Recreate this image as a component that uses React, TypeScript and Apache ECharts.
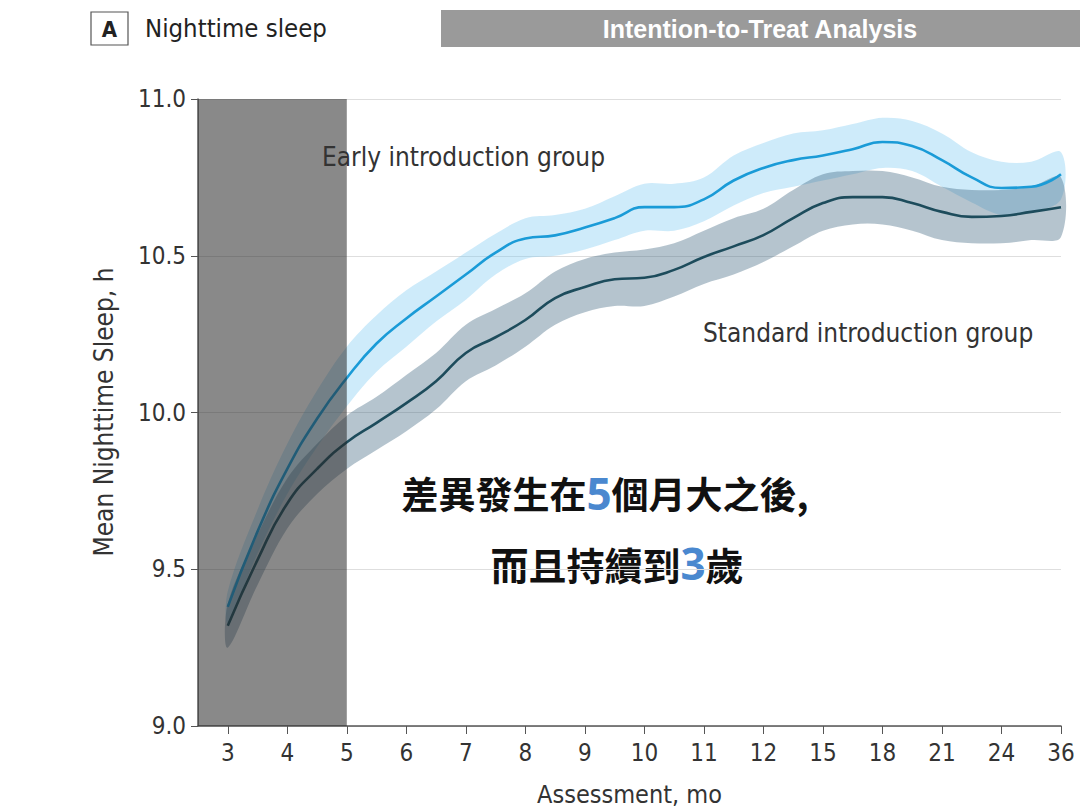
import React, { useEffect, useRef } from "react";
import * as echarts from "echarts";

// Assessment ages (months) shown as evenly spaced categories
const xLabels = ["3", "4", "5", "6", "7", "8", "9", "10", "11", "12", "15", "18", "21", "24", "36"];
// positions (index space, half steps) at which curves were read
const xPos = [0, 0.5, 1, 1.5, 2, 2.5, 3, 3.5, 4, 4.5, 5, 5.5, 6, 6.5, 7, 7.5, 8, 8.5, 9, 9.5, 10, 10.5, 11, 11.5, 12, 12.5, 13, 13.5, 14];

const earlyMean = [9.38, 9.62, 9.82, 9.98, 10.11, 10.22, 10.3, 10.37, 10.44, 10.51, 10.555, 10.565, 10.59, 10.62, 10.655, 10.655, 10.68, 10.74, 10.78, 10.805, 10.82, 10.84, 10.863, 10.85, 10.805, 10.75, 10.716, 10.72, 10.76];
const earlyUpper = [9.43, 9.69, 9.9, 10.07, 10.21, 10.31, 10.39, 10.45, 10.51, 10.57, 10.62, 10.63, 10.65, 10.69, 10.73, 10.73, 10.75, 10.82, 10.86, 10.89, 10.9, 10.92, 10.94, 10.93, 10.89, 10.83, 10.8, 10.8, 10.83];
const earlyLower = [9.33, 9.55, 9.74, 9.89, 10.02, 10.13, 10.21, 10.29, 10.36, 10.44, 10.49, 10.5, 10.52, 10.55, 10.58, 10.58, 10.61, 10.66, 10.7, 10.72, 10.74, 10.76, 10.78, 10.77, 10.72, 10.67, 10.63, 10.64, 10.68];

const stdMean = [9.32, 9.53, 9.71, 9.82, 9.905, 9.967, 10.03, 10.1, 10.19, 10.24, 10.295, 10.365, 10.4, 10.425, 10.43, 10.455, 10.496, 10.53, 10.566, 10.62, 10.668, 10.687, 10.687, 10.668, 10.64, 10.624, 10.627, 10.64, 10.655];
const stdUpper = [9.39, 9.61, 9.79, 9.9, 9.99, 10.05, 10.12, 10.19, 10.28, 10.33, 10.38, 10.45, 10.49, 10.51, 10.52, 10.54, 10.58, 10.62, 10.65, 10.71, 10.76, 10.77, 10.77, 10.75, 10.72, 10.71, 10.71, 10.72, 10.75];
const stdLower = [9.25, 9.45, 9.63, 9.74, 9.82, 9.88, 9.94, 10.01, 10.1, 10.15, 10.21, 10.28, 10.32, 10.34, 10.34, 10.37, 10.41, 10.44, 10.48, 10.53, 10.58, 10.6, 10.6, 10.58, 10.55, 10.54, 10.54, 10.55, 10.56];

const yTicks = [9.0, 9.5, 10.0, 10.5, 11.0];
const shadeRange = [-0.5, 2]; // run-in period up to 5 mo

const COND = "'Liberation Sans Narrow', 'DejaVu Sans Condensed', 'Open Sans', sans-serif";
const CJK = "'Noto Sans CJK TC', 'Noto Sans CJK SC', sans-serif";

function pairs(vals: number[]) {
  return xPos.map((x, i) => [x, vals[i]]);
}

function bandSeries(lower: number[], upper: number[], color: string) {
  return {
    type: "custom",
    silent: true,
    z: 1,
    data: xPos.map((x, i) => [x, lower[i], upper[i]]),
    renderItem: (params: any, api: any) => {
      if (params.dataIndex !== 0) return null;
      const top = xPos.map((x, i) => api.coord([x, upper[i]]));
      const bottom = xPos.map((x, i) => api.coord([x, lower[i]])).reverse();
      return {
        type: "polygon",
        shape: { points: top.concat(bottom), smooth: 0.35 },
        style: { fill: color },
      };
    },
  };
}

export default function App() {
  const ref = useRef<HTMLDivElement>(null);
  useEffect(() => {
    document.body.style.margin = "0";
    const chart = echarts.init(ref.current!, null, { renderer: "svg" });
    const option: any = {
      animation: false,
      backgroundColor: "#ffffff",
      grid: { left: 198, right: 19, top: 99, bottom: 84, containLabel: false, outerBoundsMode: "none" },
      xAxis: {
        type: "value",
        min: -0.5,
        max: 14,
        name: "Assessment, mo",
        nameLocation: "middle",
        nameGap: 56,
        nameTextStyle: { fontFamily: COND, fontSize: 25, color: "#333" },
        splitLine: { show: false },
        axisLine: { show: true, onZero: false, lineStyle: { color: "#555", width: 1.5 } },
        axisTick: { show: true, length: 8, lineStyle: { color: "#555" }, customValues: xLabels.map((_, i) => i) },
        axisLabel: {
          customValues: xLabels.map((_, i) => i),
          formatter: (v: number) => xLabels[Math.round(v)],
          fontFamily: COND,
          fontSize: 24,
          color: "#333",
          margin: 15,
        },
      },
      yAxis: {
        type: "value",
        min: 9,
        max: 11,
        interval: 0.5,
        splitLine: { show: true, lineStyle: { color: "#dedede", width: 1.2 } },
        axisLine: { show: true, onZero: false, lineStyle: { color: "#555", width: 1.5 } },
        axisTick: { show: true, length: 7, lineStyle: { color: "#555" } },
        axisLabel: {
          formatter: (v: number) => (yTicks.indexOf(v) >= 0 ? v.toFixed(1) : ""),
          fontFamily: COND,
          fontSize: 24,
          color: "#333",
          margin: 12,
        },
      },
      series: [
        bandSeries(earlyLower, earlyUpper, "rgba(120,200,240,0.36)"),
        bandSeries(stdLower, stdUpper, "rgba(60,100,125,0.38)"),
        {
          name: "Early introduction group",
          type: "line",
          data: pairs(earlyMean),
          smooth: true,
          symbol: "none",
          lineStyle: { color: "#1a9bd7", width: 2.6 },
          z: 3,
        },
        {
          name: "Standard introduction group",
          type: "line",
          data: pairs(stdMean),
          smooth: true,
          symbol: "none",
          lineStyle: { color: "#1d4c5c", width: 2.6 },
          z: 3,
        },
        {
          type: "line",
          data: [[0, 9.5]],
          symbol: "none",
          lineStyle: { opacity: 0 },
          silent: true,
          z: 10,
          markArea: {
            silent: true,
            z: 10,
            itemStyle: { color: "rgba(40,40,40,0.55)" },
            data: [[{ xAxis: shadeRange[0], yAxis: 11 }, { xAxis: shadeRange[1], yAxis: 9 }]],
          },
        },
      ],
      graphic: [
        {
          type: "rect",
          shape: { x: 91, y: 12, width: 37, height: 33 },
          style: { fill: "#fff", stroke: "#555", lineWidth: 1.2 },
        },
        {
          type: "text",
          x: 109.5,
          y: 29,
          style: { text: "A", font: `bold 22px ${COND}`, fill: "#222", align: "center", verticalAlign: "middle" },
        },
        {
          type: "text",
          x: 145,
          y: 28,
          style: { text: "Nighttime sleep", font: `25.5px ${COND}`, fill: "#222", align: "left", verticalAlign: "middle" },
        },
        {
          type: "rect",
          shape: { x: 441, y: 10, width: 639, height: 37 },
          style: { fill: "#9a9a9a" },
        },
        {
          type: "text",
          x: 760,
          y: 29,
          style: {
            text: "Intention-to-Treat Analysis",
            font: `bold 25px 'Liberation Sans', Arial, sans-serif`,
            fill: "#ffffff",
            align: "center",
            verticalAlign: "middle",
          },
        },
        {
          type: "text",
          x: 322,
          y: 157,
          z: 20,
          style: { text: "Early introduction group", font: `26px ${COND}`, fill: "#333", align: "left", verticalAlign: "middle" },
        },
        {
          type: "text",
          x: 703,
          y: 333,
          style: { text: "Standard introduction group", font: `26px ${COND}`, fill: "#333", align: "left", verticalAlign: "middle" },
        },
        {
          type: "text",
          x: 104,
          y: 412,
          rotation: Math.PI / 2,
          style: {
            text: "Mean Nighttime Sleep, h",
            font: `26px ${COND}`,
            fill: "#333",
            align: "center",
            verticalAlign: "middle",
          },
        },
        {
          type: "text",
          x: 605,
          y: 493,
          style: {
            text: "差異發生在{n|5}個月大之後,",
            font: `bold 37px ${CJK}`,
            fill: "#111",
            align: "center",
            verticalAlign: "middle",
            rich: {
              n: { fontSize: 44, fontWeight: "bold", fontFamily: "'Open Sans', sans-serif", fill: "#4a88cf", color: "#4a88cf" },
            },
          },
        },
        {
          type: "text",
          x: 617,
          y: 563,
          style: {
            text: "而且持續到{n|3}歲",
            font: `bold 38px ${CJK}`,
            fill: "#111",
            align: "center",
            verticalAlign: "middle",
            rich: {
              n: { fontSize: 44, fontWeight: "bold", fontFamily: "'Open Sans', sans-serif", fill: "#4a88cf", color: "#4a88cf" },
            },
          },
        },
      ],
    };
    chart.setOption(option);
    return () => chart.dispose();
  }, []);
  return <div ref={ref} style={{ width: 1080, height: 810 }} />;
}
